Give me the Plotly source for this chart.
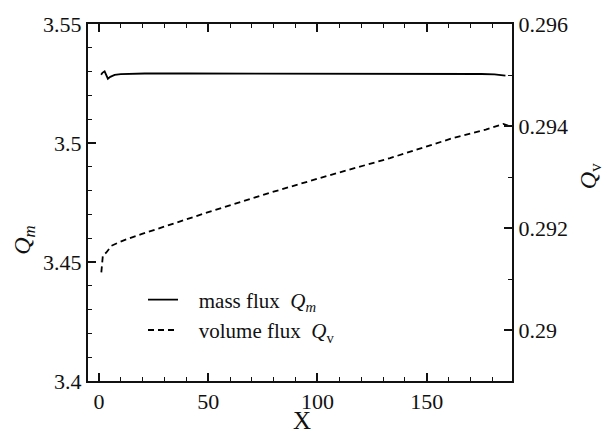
import plotly.graph_objects as go

# ---- data ----
x_mass = [1.0, 1.6, 2.6, 3.4, 4.1, 5.2, 7.2, 10, 15, 21, 40, 60, 80, 100, 120, 140, 160, 175, 181, 184, 186]
q_mass = [3.5287, 3.5295, 3.5301, 3.5284, 3.5270, 3.5278, 3.5286, 3.5289, 3.5291, 3.5292, 3.5292,
          3.5292, 3.5291, 3.5291, 3.5291, 3.5291, 3.5290, 3.5290, 3.5288, 3.5285, 3.5283]

x_vol = [1.1, 1.3, 1.8, 3.4, 5.7, 8.7, 13.3, 19.4, 49.3, 78.2, 104.3, 133.2, 161.7, 177, 185, 187.2]
q_vol = [0.29113, 0.29130, 0.29146, 0.29152, 0.29165, 0.29171, 0.29179, 0.29188, 0.29230,
         0.29269, 0.29302, 0.29337, 0.29376, 0.29393, 0.29404, 0.29401]

x_range = [-5, 189]
qm_range = [3.4, 3.55]
qv_range = [0.289, 0.296]

NB = "\u00a0"
name_mass = NB * 3 + "mass flux" + NB * 2 + "<i>Q</i><sub><i>m</i></sub>"
name_vol = NB * 3 + "volume flux" + NB * 2 + "<i>Q</i><sub>v</sub>"

FONT = "Liberation Serif"
INK = "#111111"
W, H = 606, 435
ML, MR, MT, MB = 88, 94, 22, 54
PW, PH = W - ML - MR, H - MT - MB


def px_x(p):
    return (p - ML) / PW


def px_y(p):
    return (H - MB - p) / PH


fig = go.Figure()
fig.add_trace(go.Scatter(x=x_mass, y=q_mass, mode="lines", name=name_mass,
                         line=dict(color="black", width=1.8)))
fig.add_trace(go.Scatter(x=x_vol, y=q_vol, mode="lines", name=name_vol,
                         line=dict(color="black", width=1.8, dash="6px,4px"), yaxis="y2"))

TF = dict(family=FONT, size=22, color=INK)


def minor(dt):
    return dict(dtick=dt, ticks="inside", ticklen=4, tickcolor=INK, tickwidth=1.2)


fig.update_layout(
    width=W, height=H,
    margin=dict(l=ML, r=MR, t=MT, b=MB),
    plot_bgcolor="white", paper_bgcolor="white",
    xaxis=dict(range=x_range, dtick=50, tick0=0, ticks="inside", ticklen=8, tickwidth=1.5,
               tickcolor=INK, showline=True, linecolor=INK, linewidth=2,
               mirror="ticks", showgrid=False, zeroline=False, tickfont=TF, minor=minor(10)),
    yaxis=dict(range=qm_range, dtick=0.05, tick0=3.4, tickformat="~g", ticks="inside", ticklen=8,
               tickwidth=1.5, tickcolor=INK, showline=True, linecolor=INK,
               linewidth=2, showgrid=False, zeroline=False, tickfont=TF, minor=minor(0.01)),
    yaxis2=dict(range=qv_range, overlaying="y", side="right", dtick=0.002, tick0=0.29,
                tickformat="~g", ticks="inside", ticklen=8, tickwidth=1.5, tickcolor=INK,
                showline=True, linecolor=INK, linewidth=2, showgrid=False,
                zeroline=False, tickfont=TF, minor=minor(0.001)),
    showlegend=True,
    legend=dict(x=px_x(143), y=px_y(279), xanchor="left", yanchor="top",
                bgcolor="rgba(0,0,0,0)", borderwidth=0, tracegroupgap=0,
                font=dict(family=FONT, size=21, color=INK)),
    annotations=[
        dict(text="<i>Q</i><sub><i>m</i></sub>", x=px_x(24), y=px_y(240), xref="paper",
             yref="paper", xanchor="center", yanchor="middle", showarrow=False, textangle=-90,
             font=dict(family=FONT, size=24, color=INK)),
        dict(text="<i>Q</i><sub>v</sub>", x=px_x(590), y=px_y(175), xref="paper",
             yref="paper", xanchor="center", yanchor="middle", showarrow=False, textangle=-90,
             font=dict(family=FONT, size=24, color=INK)),
        dict(text="X", x=px_x(302), y=px_y(421), xref="paper", yref="paper",
             xanchor="center", yanchor="middle", showarrow=False,
             font=dict(family=FONT, size=25, color=INK)),
    ],
)

fig.write_html("out.html")
